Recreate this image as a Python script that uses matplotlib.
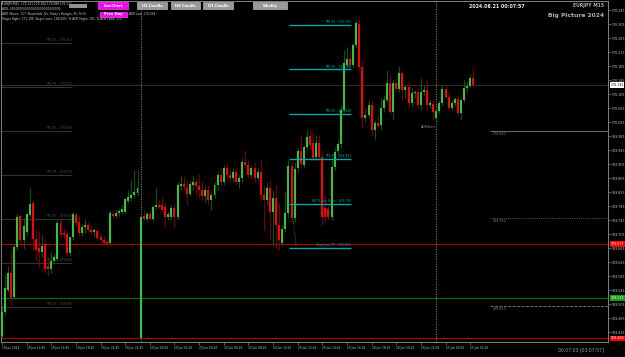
import numpy as np
import matplotlib
matplotlib.use('Agg')
import matplotlib.pyplot as plt
from matplotlib.patches import Rectangle
from matplotlib.transforms import blended_transform_factory

# ---------------- data (EURJPY M15) ----------------
opens = [169.414,169.483,169.545,169.594,169.525,169.668,169.757,169.688,169.711,169.760,
         169.794,169.691,169.665,169.654,169.677,169.614,169.605,169.628,169.634,169.737,
         169.708,169.705,169.651,169.697,169.760,169.740,169.708,169.725,169.731,169.717,
         169.711,169.714,169.697,169.688,169.683,169.680,169.763,169.757,169.765,169.768,
         169.768,169.800,169.808,169.817,169.823,169.408,169.757,169.748,169.763,169.748,
         169.783,169.788,169.788,169.783,169.754,169.754,169.780,169.754,169.843,169.848,
         169.837,169.820,169.845,169.854,169.843,169.831,169.814,169.831,169.803,169.817,
         169.845,169.874,169.854,169.894,169.874,169.865,169.883,169.854,169.865,169.911,
         169.903,169.874,169.894,169.865,169.883,169.817,169.803,169.837,169.768,169.808,
         169.731,169.680,169.720,169.765,169.900,169.751,169.894,169.943,169.903,169.954,
         169.985,169.965,169.925,169.965,169.925,169.780,169.777,169.754,169.897,169.943,
         169.963,170.060,170.188,170.205,170.188,170.245,170.305,170.183,170.037,170.045,
         170.074,170.003,170.023,170.017,170.065,170.088,170.137,170.054,170.137,170.120,
         170.165,170.117,170.125,170.080,170.108,170.111,170.074,170.111,170.117,170.074,
         170.077,170.037,170.057,170.080,170.120,170.097,170.065,170.080,170.091,170.051,
         170.088,170.123,170.128,170.151]
highs = [169.503,169.588,169.614,169.654,169.677,169.765,169.763,169.751,169.765,169.837,
         169.803,169.717,169.714,169.703,169.694,169.637,169.654,169.648,169.745,169.751,
         169.723,169.717,169.694,169.768,169.768,169.757,169.734,169.748,169.740,169.728,
         169.723,169.720,169.708,169.700,169.691,169.774,169.774,169.774,169.777,169.788,
         169.808,169.831,169.860,169.888,169.888,169.757,169.774,169.768,169.771,169.788,
         169.837,169.803,169.814,169.794,169.768,169.788,169.794,169.854,169.871,169.871,
         169.860,169.860,169.871,169.865,169.877,169.854,169.843,169.845,169.825,169.854,
         169.883,169.894,169.903,169.908,169.888,169.894,169.894,169.874,169.923,169.945,
         169.917,169.903,169.911,169.894,169.917,169.845,169.854,169.860,169.831,169.845,
         169.794,169.731,169.825,169.917,169.917,169.911,169.951,169.988,169.960,170.003,
         170.003,169.997,169.988,169.988,169.945,169.817,169.788,169.917,169.951,169.974,
         170.074,170.231,170.240,170.231,170.251,170.317,170.317,170.203,170.065,170.088,
         170.088,170.031,170.045,170.094,170.103,170.174,170.160,170.145,170.151,170.185,
         170.174,170.131,170.140,170.123,170.117,170.123,170.151,170.131,170.145,170.088,
         170.088,170.065,170.088,170.131,170.128,170.111,170.088,170.097,170.103,170.094,
         170.145,170.140,170.163,170.180]
lows = [169.408,169.474,169.540,169.503,169.520,169.660,169.674,169.663,169.700,169.754,
        169.660,169.631,169.608,169.640,169.594,169.585,169.594,169.620,169.628,169.697,
        169.694,169.643,169.643,169.688,169.728,169.700,169.700,169.708,169.711,169.705,
        169.700,169.688,169.685,169.674,169.674,169.674,169.751,169.751,169.757,169.763,
        169.763,169.794,169.800,169.811,169.814,169.405,169.745,169.743,169.745,169.743,
        169.774,169.777,169.768,169.725,169.745,169.745,169.723,169.745,169.831,169.831,
        169.788,169.814,169.831,169.817,169.808,169.803,169.797,169.788,169.774,169.808,
        169.831,169.845,169.845,169.865,169.854,169.854,169.845,169.837,169.854,169.894,
        169.865,169.865,169.854,169.860,169.803,169.717,169.788,169.688,169.674,169.665,
        169.660,169.671,169.711,169.751,169.740,169.740,169.883,169.894,169.894,169.948,
        169.945,169.917,169.917,169.917,169.731,169.740,169.745,169.745,169.888,169.931,
        169.951,170.054,170.183,170.183,170.180,170.237,170.174,170.008,170.025,170.037,
        169.988,169.974,170.008,170.003,170.054,170.083,170.045,170.031,170.111,170.111,
        170.088,170.094,170.065,170.071,170.094,170.065,170.060,170.103,170.060,170.065,
        170.031,170.025,170.051,170.071,170.094,170.060,170.060,170.071,170.045,170.031,
        170.083,170.111,170.123,170.125]
closes = [169.483,169.551,169.594,169.523,169.668,169.754,169.688,169.728,169.763,169.791,
          169.691,169.660,169.654,169.671,169.605,169.605,169.628,169.640,169.737,169.703,
          169.703,169.651,169.697,169.763,169.737,169.708,169.725,169.731,169.717,169.711,
          169.717,169.694,169.688,169.680,169.677,169.765,169.757,169.765,169.771,169.777,
          169.805,169.811,169.817,169.825,169.837,169.754,169.748,169.763,169.748,169.783,
          169.788,169.783,169.774,169.754,169.763,169.780,169.754,169.845,169.848,169.840,
          169.820,169.848,169.854,169.843,169.831,169.814,169.831,169.803,169.817,169.845,
          169.874,169.854,169.894,169.874,169.865,169.883,169.854,169.865,169.911,169.903,
          169.874,169.894,169.865,169.883,169.817,169.803,169.837,169.768,169.808,169.731,
          169.688,169.720,169.765,169.900,169.751,169.891,169.943,169.905,169.954,169.983,
          169.960,169.923,169.965,169.925,169.754,169.754,169.754,169.897,169.940,169.963,
          170.060,170.194,170.205,170.188,170.245,170.308,170.183,170.037,170.045,170.074,
          170.003,170.023,170.014,170.065,170.088,170.137,170.054,170.137,170.120,170.165,
          170.117,170.125,170.080,170.108,170.111,170.074,170.111,170.117,170.074,170.080,
          170.054,170.057,170.080,170.120,170.097,170.065,170.080,170.091,170.051,170.088,
          170.123,170.128,170.151,170.131]

x_tick_pos = list(range(0, 153, 8))
x_tick_labels = ["19 Jun 2024", "19 Jun 14:45", "19 Jun 16:45", "19 Jun 18:45", "19 Jun 20:45",
                 "19 Jun 22:45", "20 Jun 00:45", "20 Jun 02:45", "20 Jun 04:45", "20 Jun 06:45",
                 "20 Jun 08:45", "20 Jun 10:45", "20 Jun 12:45", "20 Jun 14:45", "20 Jun 16:45",
                 "20 Jun 18:45", "20 Jun 20:45", "20 Jun 22:45", "21 Jun 00:45", "21 Jun 02:45"]
y_ticks = [round(169.425 + 0.04 * k, 3) for k in range(24)]

day_separators = [45, 141]

# cyan trade levels (drawn over bars 93..113)
trade_levels = [170.303, 170.176, 170.048, 169.921, 169.792, 169.665]
trade_labels = ["TP4.95 - 170.303", "TP3.95 - 170.176", "TP2.95 - 170.048",
                "TP1.95 - 169.921", "BUY Entry Price - 169.792", "Stop Loss TF - 169.665"]
trade_span = (93.2, 113.3)

# faint grey levels on the left
left_levels = [170.251, 170.125, 170.000, 169.874, 169.748, 169.623, 169.497]
left_labels = ["TP3.95 - 170.251", "TP2.95 - 170.125", "TP1.95 - 170.000", "TP0.95 - 169.874",
               "TP1.95 - 169.748", "TP2.95 - 169.623", "TP3.95 - 169.497"]
left_span = (-0.5, 22.7)

# round-number levels on the right
right_levels = [170.000, 169.750, 169.500]
right_styles = ['-', ':', '--']
right_span = (158.4, 196.8)

red_levels = [169.677, 169.408]
green_levels = [169.523]
bid_price = closes[-1]

# ---------------- figure ----------------
W, H = 625, 357
fig = plt.figure(figsize=(W / 100, H / 100), dpi=100, facecolor='black')
ax = fig.add_axes([1 / W, 15 / H, 607 / W, 341 / H], facecolor='black')
ax.set_xlim(-0.32, 196.75)
ax.set_ylim(169.397, 170.371)

plt.rcParams['font.family'] = ['DejaVu Sans']

o = np.array(opens); h = np.array(highs); l = np.array(lows); c = np.array(closes)
idx = np.arange(len(o))
up = c >= o

# horizontal level lines
ax.axhline(bid_price, color='#2e2e2e', lw=0.7, zorder=1)
for p in red_levels:
    ax.axhline(p, color='#b00000', lw=0.8, zorder=1)
for p in green_levels:
    ax.axhline(p, color='#0b6e0b', lw=0.8, zorder=1)

for p, lab in zip(left_levels, left_labels):
    ax.hlines(p, *left_span, color='#3c3c3c', lw=0.6, zorder=1)
    ax.text(left_span[1], p + 0.002, lab, color='#505050', fontsize=2.2, ha='right', va='bottom', zorder=2)

for p, ls in zip(right_levels, right_styles):
    ax.hlines(p, *right_span, color='#7a7a7a', lw=0.6, linestyles=ls, zorder=1)
    ax.text(right_span[0] + 0.8, p - 0.003, f"{p:.3f}", color='#8a8a8a', fontsize=2.3,
            ha='left', va='top', zorder=2)

for xs in day_separators:
    ax.axvline(xs, color='#8a8a8a', lw=0.6, ls=(0, (1.5, 1.5)), zorder=1)

# candles
ax.vlines(idx[up], l[up], h[up], color='#0a6a0a', lw=0.6, zorder=3)
ax.vlines(idx[~up], l[~up], h[~up], color='#8b0000', lw=0.6, zorder=3)
body_lo = np.minimum(o, c)
body_h = np.maximum(np.abs(c - o), 0.002)
ax.bar(idx[up], body_h[up], bottom=body_lo[up], width=0.64, color='#30c830', lw=0, zorder=4)
ax.bar(idx[~up], body_h[~up], bottom=body_lo[~up], width=0.64, color='#ff0000', lw=0, zorder=4)

# cyan trade levels
for p, lab in zip(trade_levels, trade_labels):
    ax.hlines(p, *trade_span, color='#00a8a8', lw=1.0, zorder=5)
    ax.text(trade_span[1], p + 0.002, lab, color='#00b0b0', fontsize=2.2, ha='right', va='bottom', zorder=6)
ax.plot([94.2, 95.5], [169.774, 169.671], color='#00a0a0', lw=0.6, ls=':', zorder=5)

ax.text(day_separators[1] - 2.5, 170.010, "ADRStart", color='#8090a8', fontsize=2.3,
        ha='center', va='center', zorder=6)

# axes styling
for s in ax.spines.values():
    s.set_color('#808080'); s.set_linewidth(0.7)
ax.yaxis.tick_right()
ax.set_yticks(y_ticks)
ax.set_yticklabels([f"{v:.3f}" for v in y_ticks])
ax.tick_params(axis='y', colors='#808080', labelcolor='#c8c8c8', labelsize=2.3, length=2, width=0.5, pad=1)
ax.set_xticks(x_tick_pos)
ax.set_xticklabels(x_tick_labels, ha='left')
ax.tick_params(axis='x', colors='#808080', labelcolor='#c8c8c8', labelsize=2.1, length=2, width=0.5, pad=1)

# right-axis price boxes
tr = blended_transform_factory(ax.transAxes, ax.transData)
def price_box(p, fc, tc):
    ax.text(1.004, p, f"{p:.3f}", transform=tr, fontsize=2.3, color=tc, ha='left', va='center',
            bbox=dict(boxstyle='square,pad=0.2', fc=fc, ec='none'), zorder=10, clip_on=False)
price_box(bid_price, '#ffffff', '#000000')
for p in red_levels:
    price_box(p, '#ff0000', '#ffffff')
for p in green_levels:
    price_box(p, '#12a012', '#ffffff')

# ---------------- overlay text / buttons (figure pixel coords) ----------------
def ftext(x, y, s, **kw):
    fig.text(x / W, 1 - y / H, s, **kw)

def button(x0, x1, y0, y1, fc, label, ec='#d0d0d0'):
    fig.patches.append(Rectangle((x0 / W, 1 - y1 / H), (x1 - x0) / W, (y1 - y0) / H,
                                 transform=fig.transFigure, fc=fc, ec=ec, lw=0.4, zorder=20))
    ftext((x0 + x1) / 2, (y0 + y1) / 2, label, color='white', fontsize=2.6, fontweight='bold',
          ha='center', va='center', zorder=21)

ftext(2, 3.5, "EURJPY,M15  170.131 170.160 170.089 170.111", color='#e0e0e0', fontsize=2.1, va='center')
fig.patches.append(Rectangle((69 / W, 1 - 7.5 / H), 18 / W, 3.5 / H, transform=fig.transFigure,
                             fc='#909090', ec='none', zorder=20))
ftext(2, 9, "ADR: 000000000000000000000000000", color='#d0d0d0', fontsize=2.1, va='center')
ftext(2, 14, "ADR Values: 117, Reachable: No, Today's Ranges: 35, To Hi",
      color='#d0d0d0', fontsize=2.1, va='center')
ftext(129, 14, "ADR Low: 170.028", color='#d0d0d0', fontsize=2.1, va='center')
ftext(2, 19, "Target Highs: 171.199, Target Lows: 169.009 / To ADR Highs: 101, To ADR Lows: 112",
      color='#d0d0d0', fontsize=2.1, va='center')

button(98, 128, 2.5, 9, '#ff00ff', "LineChart", ec='#ff60ff')
button(137, 167, 2.5, 9, '#9a9a9a', "H1 Candle")
button(171, 200, 2.5, 9, '#9a9a9a', "H4 Candle")
button(203, 233, 2.5, 9, '#9a9a9a', "D1 Candle")
button(253, 287, 2.5, 9, '#9a9a9a', "Weekly")
button(100, 127, 12, 17, '#ff00ff', "Prev Day", ec='#ff60ff')

ftext(497, 6, "2024.06.21 00:07:57", color='#f0f0f0', fontsize=3.4, fontweight='bold', ha='center', va='center')
ftext(604, 6, "EURJPY M15", color='#a8a8a8', fontsize=3.3, fontweight='bold', ha='right', va='center')
ftext(604, 15.5, "Big Picture 2024", color='#b0b0b0', fontsize=4.3, fontweight='bold', ha='right', va='center')
ftext(604, 350, "00:07:03 [03:07:57]", color='#a0a0a0', fontsize=3.3, ha='right', va='center')

fig.savefig('out.png', dpi=100, facecolor='black')
